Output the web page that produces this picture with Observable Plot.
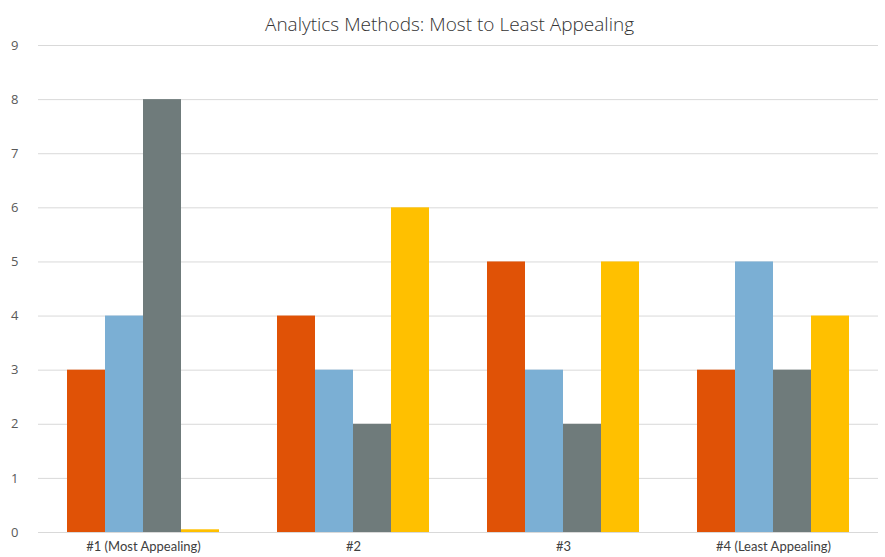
<!DOCTYPE html>
<html>
<head>
<meta charset="utf-8">
<script src="https://cdn.jsdelivr.net/npm/d3@7"></script>
<script src="https://cdn.jsdelivr.net/npm/@observablehq/plot@0.6"></script>
<style>
  html, body { margin: 0; padding: 0; background: #fff; }
  #chart svg { display: block; }
</style>
</head>
<body>
<div id="chart"></div>
<script>
const title = "Analytics Methods: Most to Least Appealing";
const categories = ["#1 (Most Appealing)", "#2", "#3", "#4 (Least Appealing)"];
const seriesNames = ["Series 1", "Series 2", "Series 3", "Series 4"];
const seriesColors = ["#E05206", "#7BAFD4", "#6F7B7B", "#FFC000"];
const series1 = [3, 4, 5, 3];
const series2 = [4, 3, 3, 5];
const series3 = [8, 2, 2, 3];
const series4 = [0.05, 6, 5, 4];
const yTicks = [0, 1, 2, 3, 4, 5, 6, 7, 8, 9];

const seriesValues = [series1, series2, series3, series4];
const table = [];
categories.forEach((c, i) => {
  seriesNames.forEach((s, j) => {
    table.push({category: c, series: s, value: seriesValues[j][i]});
  });
});

const plot = Plot.plot({
  width: 885,
  height: 557,
  marginTop: 45,
  marginBottom: 25,
  marginLeft: 38,
  marginRight: 7,
  style: {fontFamily: "Lato, 'Open Sans', sans-serif", fontSize: "12px", color: "#595959", background: "#fff"},
  fx: {domain: categories, paddingInner: 0.276, paddingOuter: 0.138, label: null},
  x: {domain: seriesNames, padding: 0, axis: null},
  y: {domain: [0, 9], label: null},
  color: {domain: seriesNames, range: seriesColors},
  marks: [
    Plot.ruleY(yTicks, {y: d => d, stroke: "#d9d9d9", strokeWidth: 1, insetLeft: -29, insetRight: -29}),
    Plot.barY(table, {fx: "category", x: "series", y: "value", fill: "series"}),
    Plot.axisY({ticks: yTicks, tickSize: 0, tickPadding: 49, label: null, fontSize: 13, fontFamily: "'Open Sans', sans-serif", fill: "#595959"}),
    Plot.axisFx({anchor: "bottom", tickSize: 0, tickPadding: 9, label: null, fontSize: 13, fill: "#404040"}),
    Plot.text([title], {text: d => d, frameAnchor: "top", dy: -28, dx: -9, fontSize: 19, fontWeight: 300, fontFamily: "'Open Sans', sans-serif", fill: "#333333", facet: "super"})
  ]
});
document.getElementById("chart").appendChild(plot);
</script>
</body>
</html>
